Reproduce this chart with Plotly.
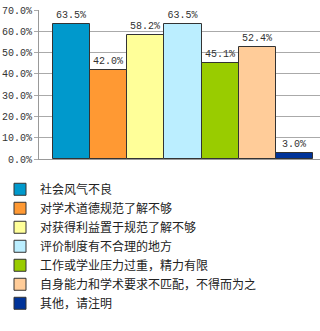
import plotly.graph_objects as go

categories = ["社会风气不良", "对学术道德规范了解不够", "对获得利益置于规范了解不够",
              "评价制度有不合理的地方", "工作或学业压力过重，精力有限",
              "自身能力和学术要求不匹配，不得而为之", "其他，请注明"]
values = [63.5, 42.0, 58.2, 63.5, 45.1, 52.4, 3.0]
colors = ["#0099CC", "#FF9933", "#FFFF99", "#BBEEFF", "#99CC00", "#FFCC99", "#003399"]
y_ticks = [0, 10, 20, 30, 40, 50, 60, 70]
y_tick_labels = [f"{t:.1f}%" for t in y_ticks]

fig = go.Figure()
for i, (name, v, c) in enumerate(zip(categories, values, colors)):
    fig.add_trace(go.Bar(
        x=[i], y=[v], name=name, width=1,
        marker=dict(color=c, line=dict(color="#333333", width=1)),
        text=[f"{v:.1f}%"], textposition="outside", cliponaxis=False,
        textfont=dict(family="Liberation Mono", size=10, color="#333333"),
        legendgroup=f"g{i}",
    ))

fig.update_layout(
    width=320, height=331,
    margin=dict(l=39, r=0, t=10, b=172, autoexpand=False),
    paper_bgcolor="white", plot_bgcolor="white",
    showlegend=True,
    legend=dict(
        orientation="v",
        xref="container", yref="container", x=0, y=0.472,
        xanchor="left", yanchor="top",
        font=dict(family="Noto Sans CJK SC", size=12, color="#222222"),
        tracegroupgap=6, traceorder="normal",
        bgcolor="rgba(0,0,0,0)",
    ),
    xaxis=dict(range=[-0.877, 6.688], showticklabels=False, ticks="",
               showgrid=False, zeroline=False, showline=True,
               linecolor="#999999", linewidth=1),
    yaxis=dict(range=[0, 70], tickvals=y_ticks, ticktext=y_tick_labels,
               showgrid=True, gridcolor="#aaaaaa", gridwidth=1, automargin=False,
               zeroline=False, showline=True, linecolor="#999999", linewidth=1,
               ticks="outside", ticklen=4, tickcolor="#aaaaaa",
               tickfont=dict(family="Liberation Mono", size=10, color="#333333")),
    bargap=0,
)

fig.write_html("out.html")
